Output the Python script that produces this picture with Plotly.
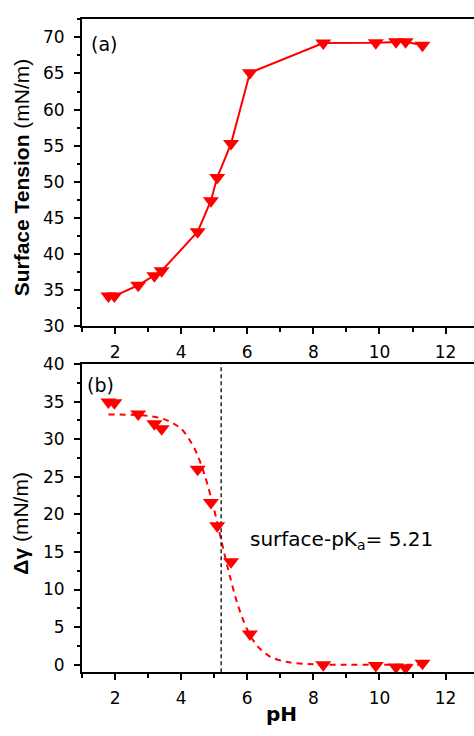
import plotly.graph_objects as go

# ---- data ----
ph = [1.80, 1.98, 2.70, 3.19, 3.41, 4.50, 4.90, 5.09, 5.51, 6.08, 8.30, 9.89, 10.50, 10.79, 11.30]
surface_tension = [34.2, 34.2, 35.7, 37.0, 37.7, 43.1, 47.4, 50.6, 55.3, 65.1, 69.2, 69.25, 69.4, 69.4, 68.9]
delta_gamma = [34.95, 34.86, 33.35, 32.05, 31.4, 26.0, 21.6, 18.5, 13.7, 4.1, 0.0, -0.1, -0.3, -0.4, 0.2]

fit_ph = [1.8, 2.5, 3.0, 3.5, 4.0, 4.4, 4.7, 5.0, 5.21, 5.4, 5.7, 6.0, 6.3, 6.7, 7.2, 8.0, 9.0, 10.0, 11.3]
fit_dg = [33.3, 33.25, 33.1, 32.65, 31.4, 28.8, 25.4, 20.6, 16.65, 13.05, 8.15, 4.65, 2.5, 1.05, 0.35, 0.05, 0.0, 0.0, 0.0]

pka = 5.21
pka_line_y = [-1, 40]

x_ticks = [2, 4, 6, 8, 10, 12]
st_ticks = [30, 35, 40, 45, 50, 55, 60, 65, 70]
dg_ticks = [0, 5, 10, 15, 20, 25, 30, 35, 40]

RED = "#ff0000"
FONT = "Liberation Sans, Arial, sans-serif"
WFONT = "DejaVu Sans, Liberation Sans, sans-serif"
W, H = 474, 736

fig = go.Figure()

fig.add_trace(go.Scatter(
    x=ph, y=surface_tension, mode="lines+markers",
    line=dict(color=RED, width=2),
    marker=dict(symbol="triangle-down", size=14, color=RED),
    xaxis="x", yaxis="y", showlegend=False, cliponaxis=False))

fig.add_trace(go.Scatter(
    x=fit_ph, y=fit_dg, mode="lines",
    line=dict(color=RED, width=2, dash="6px,5px", shape="spline", smoothing=0.8),
    xaxis="x2", yaxis="y2", showlegend=False))

fig.add_trace(go.Scatter(
    x=[pka, pka], y=pka_line_y, mode="lines",
    line=dict(color="black", width=1.3, dash="4px,3px"),
    xaxis="x2", yaxis="y2", showlegend=False))

fig.add_trace(go.Scatter(
    x=ph, y=delta_gamma, mode="markers",
    marker=dict(symbol="triangle-down", size=14, color=RED),
    xaxis="x2", yaxis="y2", showlegend=False, cliponaxis=False))

L = 82
plot_w = W - L
top_dom = [1 - 325.3 / H, 1 - 9.5 / H]
bot_dom = [1 - 680.7 / H, 1 - 364 / H]

xcommon = dict(
    range=[1, 12.86], tickmode="array", tickvals=x_ticks,
    ticks="outside", ticklen=6, tickwidth=1.5, tickcolor="black",
    minor=dict(dtick=1, tick0=1, ticks="outside", ticklen=3.5, tickwidth=1.5, tickcolor="black"),
    showline=True, linecolor="black", linewidth=2, mirror=True,
    showgrid=False, zeroline=False,
    tickfont=dict(family=WFONT, size=17, color="black"),
    ticklabelstandoff=3,
)
ycommon = dict(
    ticks="outside", ticklen=6, tickwidth=1.5, tickcolor="black",
    minor=dict(dtick=2.5, ticks="outside", ticklen=3.5, tickwidth=1.5, tickcolor="black"),
    showline=True, linecolor="black", linewidth=2, mirror=False,
    showgrid=False, zeroline=False,
    tickfont=dict(family=WFONT, size=17, color="black"),
    ticklabelstandoff=6,
)

fig.update_layout(
    width=W, height=H,
    margin=dict(l=L, r=0, t=0, b=0),
    paper_bgcolor="white", plot_bgcolor="white",
    xaxis=dict(domain=[0, 1], anchor="y", **xcommon),
    yaxis=dict(domain=top_dom, anchor="x", range=[30, 72.5],
               tickmode="array", tickvals=st_ticks, **ycommon),
    xaxis2=dict(domain=[0, 1], anchor="y2", **xcommon),
    yaxis2=dict(domain=bot_dom, anchor="x2", range=[-1, 40],
                tickmode="array", tickvals=dg_ticks, **ycommon),
    annotations=[
        dict(text="<b>Surface Tension</b> (mN/m)", xref="paper", yref="paper",
             x=(21 - L) / plot_w, y=1 - 172 / H, textangle=-90,
             xanchor="center", yanchor="middle", showarrow=False,
             font=dict(family=FONT, size=21, color="black")),
        dict(text="<b>Δγ</b> (mN/m)", xref="paper", yref="paper",
             x=(21 - L) / plot_w, y=1 - 528 / H, textangle=-90,
             xanchor="center", yanchor="middle", showarrow=False,
             font=dict(family=FONT, size=21, color="black")),
        dict(text="<b>pH</b>", xref="paper", yref="paper",
             x=(281 - L) / plot_w, y=1 - 724 / H,
             xanchor="center", yanchor="middle", showarrow=False,
             font=dict(family=WFONT, size=20, color="black")),
        dict(text="(a)", xref="paper", yref="paper",
             x=(89 - L) / plot_w, y=1 - 35 / H,
             xanchor="left", yanchor="middle", showarrow=False,
             font=dict(family=WFONT, size=19, color="black")),
        dict(text="(b)", xref="paper", yref="paper",
             x=(85 - L) / plot_w, y=1 - 385 / H,
             xanchor="left", yanchor="middle", showarrow=False,
             font=dict(family=WFONT, size=19, color="black")),
        dict(text="surface-pK<sub>a</sub>= 5.21", xref="x2", yref="y2",
             x=6.02, y=16.6, xanchor="left", yanchor="middle", showarrow=False,
             font=dict(family=WFONT, size=20, color="black")),
    ],
)

fig.write_html("out.html")
